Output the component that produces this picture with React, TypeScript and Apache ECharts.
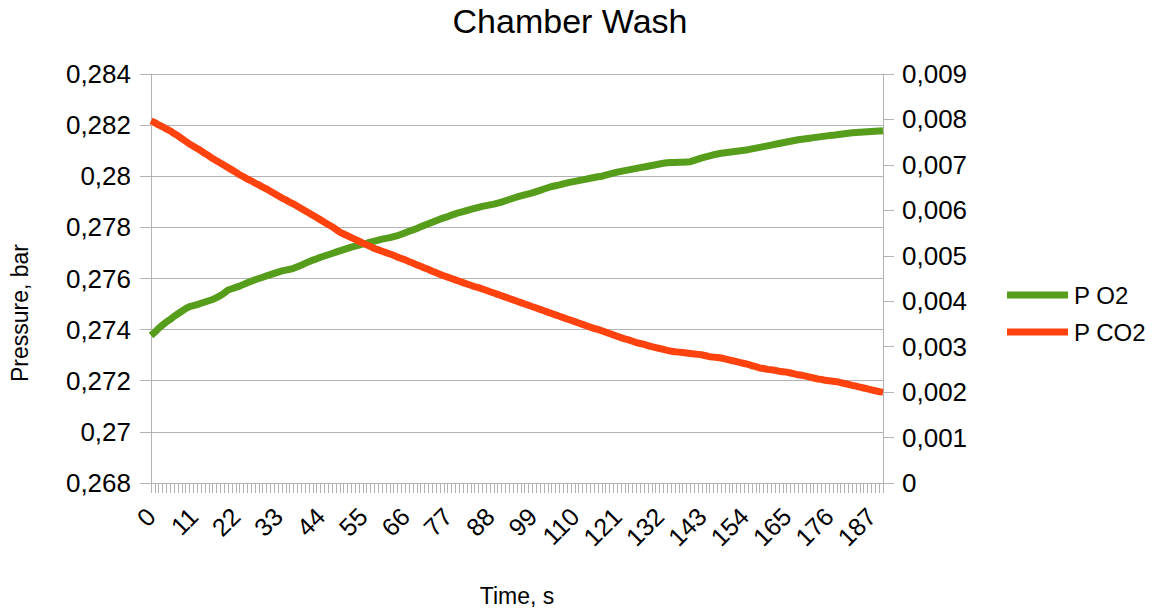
import React, { useEffect, useRef } from "react";
import * as echarts from "echarts";

const TITLE = "Chamber Wash";
const X_NAME = "Time, s";
const Y_NAME = "Pressure, bar";
const SERIES_NAMES = ["P O2", "P CO2"];

// time in seconds, 0..190
const times: string[] = Array.from({ length: 191 }, (_, i) => String(i));

const pO2: number[] = [
  0.27377, 0.2739, 0.27405, 0.27418, 0.2743, 0.2744, 0.27452, 0.27462, 0.27472, 0.27482,
  0.2749, 0.27494, 0.27498, 0.27503, 0.27508, 0.27513, 0.27518, 0.27525, 0.27533, 0.27543,
  0.27555, 0.2756, 0.27565, 0.2757, 0.27577, 0.27583, 0.27589, 0.27595, 0.276, 0.27605,
  0.2761, 0.27615, 0.2762, 0.27625, 0.2763, 0.27633, 0.27636, 0.2764, 0.27646, 0.27652,
  0.27659, 0.27666, 0.27672, 0.27677, 0.27683, 0.27688, 0.27693, 0.27698, 0.27703, 0.27708,
  0.27713, 0.27718, 0.27723, 0.27727, 0.27731, 0.27735, 0.27738, 0.27742, 0.27746, 0.2775,
  0.27754, 0.27757, 0.2776, 0.27764, 0.27768, 0.27773, 0.27779, 0.27785, 0.2779, 0.27796,
  0.27802, 0.27808, 0.27814, 0.2782, 0.27826, 0.27832, 0.27837, 0.27842, 0.27848, 0.27853,
  0.27858, 0.27862, 0.27866, 0.2787, 0.27874, 0.27878, 0.27882, 0.27885, 0.27888, 0.27891,
  0.27895, 0.27899, 0.27904, 0.27909, 0.27914, 0.27919, 0.27923, 0.27927, 0.27931, 0.27935,
  0.2794, 0.27945, 0.2795, 0.27955, 0.2796, 0.27963, 0.27966, 0.2797, 0.27974, 0.27977,
  0.2798, 0.27983, 0.27986, 0.27989, 0.27992, 0.27995, 0.27998, 0.28, 0.28004, 0.28008,
  0.28012, 0.28016, 0.28019, 0.28022, 0.28025, 0.28028, 0.28031, 0.28034, 0.28036, 0.28039,
  0.28042, 0.28045, 0.28048, 0.28051, 0.28053, 0.28054, 0.28054, 0.28055, 0.28055, 0.28056,
  0.28057, 0.28062, 0.28067, 0.28072, 0.28076, 0.2808, 0.28084, 0.28087, 0.2809, 0.28092,
  0.28094, 0.28096, 0.28098, 0.281, 0.28102, 0.28104, 0.28107, 0.2811, 0.28113, 0.28116,
  0.28119, 0.28122, 0.28125, 0.28128, 0.28131, 0.28134, 0.28137, 0.2814, 0.28143, 0.28145,
  0.28147, 0.28149, 0.28151, 0.28153, 0.28155, 0.28157, 0.28159, 0.2816, 0.28162, 0.28164,
  0.28166, 0.28168, 0.2817, 0.28171, 0.28172, 0.28173, 0.28174, 0.28175, 0.28176, 0.28177,
  0.28178,
];

const pCO2: number[] = [
  0.00797, 0.00793, 0.00788, 0.00784, 0.00779, 0.00775, 0.00769, 0.00764, 0.00758, 0.00752,
  0.00746, 0.00741, 0.00736, 0.00731, 0.00725, 0.0072, 0.00714, 0.00709, 0.00704, 0.00699,
  0.00694, 0.00689, 0.00684, 0.00678, 0.00674, 0.00669, 0.00665, 0.0066, 0.00656, 0.00651,
  0.00647, 0.00642, 0.00637, 0.00632, 0.00627, 0.00623, 0.00618, 0.00614, 0.00609, 0.00604,
  0.00599, 0.00594, 0.00589, 0.00584, 0.00579, 0.00574, 0.00569, 0.00564, 0.00558, 0.00552,
  0.00548, 0.00544, 0.0054, 0.00536, 0.00532, 0.00528, 0.00524, 0.0052, 0.00516, 0.00513,
  0.0051, 0.00507, 0.00504, 0.00501, 0.00497, 0.00494, 0.00491, 0.00487, 0.00484, 0.0048,
  0.00477, 0.00473, 0.0047, 0.00466, 0.00463, 0.00459, 0.00456, 0.00453, 0.0045, 0.00447,
  0.00444, 0.00441, 0.00438, 0.00435, 0.00432, 0.0043, 0.00427, 0.00424, 0.00421, 0.00418,
  0.00415, 0.00412, 0.00409, 0.00406, 0.00403, 0.004, 0.00397, 0.00394, 0.00391, 0.00388,
  0.00385, 0.00382, 0.00379, 0.00376, 0.00373, 0.0037, 0.00367, 0.00364, 0.00361, 0.00358,
  0.00355, 0.00352, 0.00349, 0.00346, 0.00343, 0.0034, 0.00338, 0.00335, 0.00332, 0.00329,
  0.00326, 0.00323, 0.0032, 0.00317, 0.00315, 0.00312, 0.00309, 0.00307, 0.00305, 0.00302,
  0.003, 0.00298, 0.00296, 0.00294, 0.00292, 0.0029, 0.00289, 0.00288, 0.00287, 0.00286,
  0.00285, 0.00284, 0.00283, 0.00282, 0.0028, 0.00278, 0.00277, 0.00276, 0.00275, 0.00273,
  0.00271, 0.00269, 0.00267, 0.00265, 0.00263, 0.00261, 0.00258, 0.00256, 0.00253, 0.00252,
  0.0025, 0.00249, 0.00248, 0.00246, 0.00245, 0.00244, 0.00242, 0.0024, 0.00238, 0.00237,
  0.00235, 0.00233, 0.00231, 0.00229, 0.00228, 0.00226, 0.00225, 0.00224, 0.00223, 0.00221,
  0.00219, 0.00217, 0.00215, 0.00213, 0.00211, 0.00209, 0.00207, 0.00205, 0.00203, 0.00201,
  0.002,
];

const COLORS = ["#579d1c", "#ff420e"];
const FONT = "Liberation Sans";
const GRID_COLOR = "#b3b3b3";

const fmt = (v: number) => String(parseFloat(v.toFixed(5))).replace(".", ",");

export default function App() {
  const ref = useRef<HTMLDivElement>(null);
  useEffect(() => {
    if (!ref.current) return;
    const chart = echarts.init(ref.current, undefined, { renderer: "svg" });
    chart.setOption({
      animation: false,
      textStyle: { fontFamily: FONT },
      grid: { left: 151, right: 285, top: 74, bottom: 127, containLabel: false },
      graphic: [
        {
          type: "text",
          x: 570,
          y: 21,
          style: {
            text: TITLE,
            font: `34px "${FONT}"`,
            fill: "#000",
            textAlign: "center",
            textVerticalAlign: "middle",
          },
        },
        {
          type: "text",
          x: 20,
          y: 313,
          rotation: Math.PI / 2,
          style: {
            text: Y_NAME,
            font: `23px "${FONT}"`,
            fill: "#000",
            textAlign: "center",
            textVerticalAlign: "middle",
          },
        },
        {
          type: "text",
          x: 517,
          y: 596,
          style: {
            text: X_NAME,
            font: `23px "${FONT}"`,
            fill: "#000",
            textAlign: "center",
            textVerticalAlign: "middle",
          },
        },
      ],
      legend: {
        orient: "vertical",
        left: 1002,
        top: 278,
        itemWidth: 61,
        itemHeight: 7,
        itemGap: 13,
        icon: "rect",
        data: SERIES_NAMES,
        textStyle: { fontFamily: FONT, fontSize: 24, color: "#000", padding: [0, 0, 0, 1] },
      },
      xAxis: {
        type: "category",
        data: times,
        boundaryGap: false,
        axisLine: { lineStyle: { color: GRID_COLOR, width: 1 } },
        axisTick: { show: true, interval: 0, length: 10, lineStyle: { color: GRID_COLOR } },
        axisLabel: {
          interval: 10,
          rotate: 45,
          margin: 29,
          fontSize: 25,
          color: "#000",
          fontFamily: FONT,
        },
        splitLine: { show: false },
      },
      yAxis: [
        {
          type: "value",
          min: 0.268,
          max: 0.284,
          interval: 0.002,
          position: "left",
          axisLine: { show: true, lineStyle: { color: GRID_COLOR } },
          axisTick: { show: true, length: 11, lineStyle: { color: GRID_COLOR } },
          axisLabel: { formatter: fmt, fontSize: 26, color: "#000", margin: 20, fontFamily: FONT },
          splitLine: { show: true, lineStyle: { color: GRID_COLOR, width: 1 } },
        },
        {
          type: "value",
          min: 0,
          max: 0.009,
          interval: 0.001,
          position: "right",
          axisLine: { show: true, lineStyle: { color: GRID_COLOR } },
          axisTick: { show: true, length: 11, lineStyle: { color: GRID_COLOR } },
          axisLabel: { formatter: fmt, fontSize: 26, color: "#000", margin: 19, fontFamily: FONT },
          splitLine: { show: false },
        },
      ],
      series: [
        {
          name: SERIES_NAMES[0],
          type: "line",
          yAxisIndex: 0,
          data: pO2,
          showSymbol: false,
          symbol: "rect",
          color: COLORS[0],
          lineStyle: { width: 7, color: COLORS[0] },
        },
        {
          name: SERIES_NAMES[1],
          type: "line",
          yAxisIndex: 1,
          data: pCO2,
          showSymbol: false,
          symbol: "rect",
          color: COLORS[1],
          lineStyle: { width: 7, color: COLORS[1] },
        },
      ],
    });
    return () => chart.dispose();
  }, []);
  return <div ref={ref} style={{ width: 1168, height: 610, position: "absolute", left: 0, top: 0 }} />;
}
